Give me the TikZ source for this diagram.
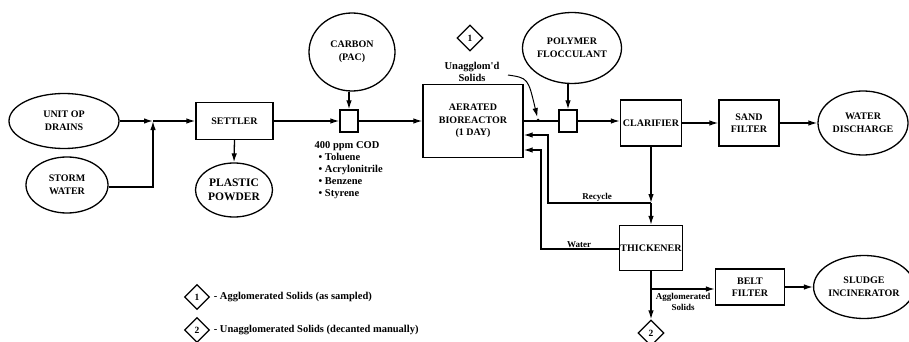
\documentclass[tikz,border=0pt]{standalone}
\usepackage{fontspec}
\setmainfont{Liberation Serif}[Ligatures=TeXOff]
\usetikzlibrary{shapes.geometric,arrows.meta,positioning,calc}

\begin{document}
\begin{tikzpicture}[x=1pt,y=-1pt,
  line width=1.3pt, >={Latex[length=9pt,width=5.5pt]},
  box/.style={rectangle, draw, align=center, inner sep=1pt, font=\bfseries\fontsize{10}{12.5}\selectfont},
  ell/.style={ellipse, draw, align=center, inner sep=0pt, font=\bfseries\fontsize{10}{13}\selectfont},
  tag/.style={diamond, draw, inner sep=0pt, minimum width=26pt, minimum height=26pt, font=\bfseries\fontsize{9.5}{10}\selectfont},
  lbl/.style={align=center, inner sep=1pt, font=\bfseries\fontsize{9}{10.5}\selectfont}]
\useasboundingbox (0,0) rectangle (909,342);

% Feed streams
\node[ell, minimum width=110pt, minimum height=55pt] (drains) at (64,121) {UNIT OP\\DRAINS};
\node[ell, minimum width=82pt, minimum height=56pt] (storm) at (67,185) {STORM\\WATER};
\coordinate (jn) at (153,121);

% Treatment train
\node[box, minimum width=77pt, minimum height=37pt] (settler) at (234.5,121) {SETTLER};
\node[ell, minimum width=77pt, minimum height=54pt, font=\bfseries\fontsize{11.5}{14}\selectfont] (plastic) at (234,190) {PLASTIC\\POWDER};
\node[ell, minimum width=86pt, minimum height=78pt] (carbon) at (352,52) {CARBON\\(PAC)};
\node[box, minimum width=18pt, minimum height=22pt] (pac) at (349,121) {};
\node[box, minimum width=100pt, minimum height=73pt] (bio) at (473,121) {AERATED\\BIOREACTOR\\(1 DAY)};
\node[ell, minimum width=89pt, minimum height=71pt] (polymer) at (572,48) {POLYMER\\FLOCCULANT};
\node[box, minimum width=18pt, minimum height=22pt] (floc) at (568,121) {};
\node[box, minimum width=61pt, minimum height=46pt] (clar) at (651,123) {CLARIFIER};
\node[box, minimum width=60pt, minimum height=46pt] (sand) at (749,123) {SAND\\FILTER};
\node[ell, minimum width=90pt, minimum height=64pt] (discharge) at (863,123) {WATER\\DISCHARGE};
\node[box, minimum width=60pt, minimum height=45pt] (thick) at (651,248) {THICKENER};
\node[box, minimum width=69pt, minimum height=36pt] (belt) at (750,287) {BELT\\FILTER};
\node[ell, minimum width=90pt, minimum height=63pt] (incin) at (864,287) {SLUDGE\\INCINERATOR};
\coordinate (rj) at (651,203);
\coordinate (bj) at (651,289);

% Feed composition
\node[anchor=north west, align=left, inner sep=0pt, font=\bfseries\fontsize{10.5}{12}\selectfont] (cod) at (314,141)
  {400 ppm COD\\\hspace{4pt}• Toluene\\\hspace{4pt}• Acrylonitrile\\\hspace{4pt}• Benzene\\\hspace{4pt}• Styrene};

% Sample points
\node[tag] (s1) at (470,38) {1};
\node[align=center, inner sep=0pt, font=\bfseries\fontsize{10.5}{11.5}\selectfont] (unag) at (472,72) {Unagglom'd\\Solids};
\coordinate (cstart) at (508,75);
\fill (538,120) circle (1.5pt) coordinate (dot);
\node[tag] (s2) at (651,333) {2};

% Arrows
\draw[->] (drains.east) -- (jn);
\draw[->] (storm.east |- 0,187) -| (jn);
\draw[->] (jn) -- (settler.west);
\draw[->] (settler.south) -- (plastic.north);
\draw[->] (settler.east) -- (pac.west);
\draw[->] (carbon.south -| pac.north) -- (pac.north);
\draw[->] (pac.east) -- (bio.west);
\draw (bio.east) -- (floc.west);
\draw[->, line width=1pt, shorten >=3pt] (cstart) .. controls (528,78) .. (dot);
\draw[->] (polymer.south -| floc.north) -- (floc.north);
\draw[->] (floc.east) -- (floc.east -| clar.west);
\draw[->] (clar.east) -- (sand.west);
\draw[->] (sand.east) -- (discharge.west);
\draw[->] (clar.south) -- (rj);
\draw[->] (rj) -- (thick.north);
\draw[->] (rj) -| (548,170) |- (bio.east |- 0,135);
\draw[->] (thick.west |- 0,249) -| (541,200) |- (bio.east |- 0,150);
\draw[->] (thick.south) -- (s2.north);
\draw[->] (bj) -- (bj -| belt.west);
\draw[->] (belt.east) -- (incin.west);

% Stream labels
\node[lbl, anchor=south] (recycle) at (597,203) {Recycle};
\node[lbl, anchor=south] (water) at (579,249) {Water};
\node[lbl] (agg) at (683,302) {Agglomerated\\Solids};

% Legend
\node[tag, minimum width=25pt, minimum height=25pt] (k1) at (197,297) {1};
\node[anchor=west, inner sep=0pt, font=\bfseries\fontsize{10.5}{12}\selectfont, right=3pt of k1] (k1t) {- Agglomerated Solids (as sampled)};
\node[tag, minimum width=25pt, minimum height=25pt] (k2) at (197,330) {2};
\node[anchor=west, inner sep=0pt, font=\bfseries\fontsize{10.5}{12}\selectfont, right=3pt of k2] (k2t) {- Unagglomerated Solids (decanted manually)};
\end{tikzpicture}
\end{document}
